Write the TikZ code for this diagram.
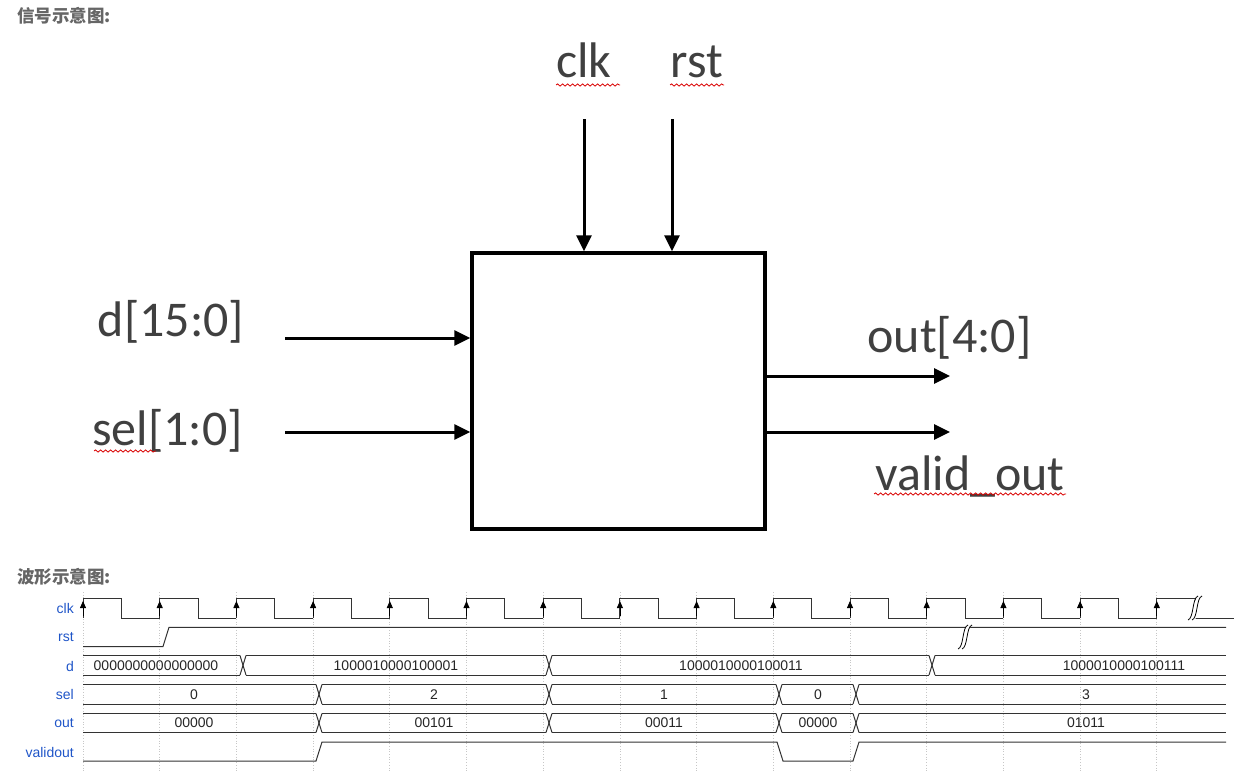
\documentclass[tikz,border=0pt]{standalone}
\usepackage{fontspec}
\setmainfont{Liberation Sans}
\newfontfamily\cjk{Noto Sans CJK SC}
\newfontfamily\drawfont{Carlito}
\usetikzlibrary{arrows.meta, positioning, decorations.pathmorphing}
\definecolor{headgray}{HTML}{666666}
\definecolor{sigblue}{HTML}{1F55C8}
\definecolor{wavegray}{HTML}{333333}
\tikzstyle{heading} = [anchor=west, inner sep=0pt, font=\cjk\bfseries\fontsize{17.5}{17.5}\selectfont, text=headgray]
\tikzstyle{block} = [rectangle, minimum width=293, minimum height=276, draw=black, line width=3.5pt, inner sep=0pt]
\tikzstyle{port} = [inner sep=0pt, font=\drawfont\fontsize{50}{50}\selectfont, text=black!75]
\tikzstyle{arrow} = [-{Triangle[length=16pt, width=15pt]}, line width=3pt]
\tikzstyle{squiggle} = [red!85!black, line width=0.8pt, decorate, decoration={snake, amplitude=1.1pt, segment length=5pt}]
\tikzstyle{signame} = [anchor=east, inner sep=0pt, font=\fontsize{14}{14}\selectfont, text=sigblue]
\tikzstyle{value} = [inner sep=0pt, font=\fontsize{14}{14}\selectfont, text=black!85]
\tikzstyle{wave} = [line width=1pt, draw=wavegray]
\tikzstyle{gridline} = [line width=0.7pt, draw=black!22, dotted]
\tikzstyle{edgetip} = [-{Triangle[length=7pt, width=6pt]}, line width=0.8pt]
\newcommand{\buslane}[3]{%
    \draw[wave] (83,#1) -- (1226,#1);
    \draw[wave] (83,#2) -- (1226,#2);
    \foreach \xc in {#3} {
        \fill[white] (\xc-3,#1-1) rectangle (\xc+3,#2+1);
        \draw[wave] (\xc-3,#1) -- (\xc+3,#2);
        \draw[wave] (\xc-3,#2) -- (\xc+3,#1);
    }
}
\newcommand{\wavebreak}[2]{%
    \fill[white] (#1-5,#2+12) .. controls (#1,#2+10) and (#1-2,#2-10) .. (#1+3,#2-12)
        -- (#1+7,#2-12) .. controls (#1+2,#2-10) and (#1+4,#2+10) .. (#1-1,#2+12) -- cycle;
    \draw[line width=0.8pt] (#1-7,#2+12) .. controls (#1-1,#2+10) and (#1-3,#2-10) .. (#1+3,#2-12);
    \draw[line width=0.8pt] (#1-3,#2+12) .. controls (#1+3,#2+10) and (#1+1,#2-10) .. (#1+7,#2-12);
}

\begin{document}
\begin{tikzpicture}[x=1pt, y=-1pt]
    \useasboundingbox (0,0) rectangle (1239,771);

    \node[heading] (sighead) at (17,16) {信号示意图:};
    \node[heading] (wavehead) at (17,577) {波形示意图:};

    % block with its ports
    \node[block] (dut) at (618.5,391) {};
    \node[port] (clk) at (584,60) {clk};
    \node[port] (rst) at (697,62) {rst};
    \node[port] (d) at (171,322) {d[15:0]};
    \node[port] (sel) at (167.5,431) {sel[1:0]};
    \node[port] (out) at (949.5,338) {out[4:0]};
    \node[port] (validout) at (970,476) {valid\_out};

    \coordinate (clkin) at (584,119);
    \coordinate (rstin) at (672,119);
    \coordinate (din) at (285,338);
    \coordinate (selin) at (285,432);
    \coordinate (outend) at (950,376);
    \coordinate (validend) at (950,432);

    \draw[arrow] (clkin) -- (clkin |- dut.north);
    \draw[arrow] (rstin) -- (rstin |- dut.north);
    \draw[arrow] (din) -- (din -| dut.west);
    \draw[arrow] (selin) -- (selin -| dut.west);
    \draw[arrow] (outend -| dut.east) -- (outend);
    \draw[arrow] (validend -| dut.east) -- (validend);

    % spell check marks
    \draw[squiggle] (556,85) -- (620,85);
    \draw[squiggle] (670,85) -- (724,85);
    \draw[squiggle] (94,451) -- (156,451);
    \draw[squiggle] (874,494) -- (1066,494);

    % waveform
    \foreach \xg in {83,159.7,236.4,313.1,389.8,466.5,543.2,619.9,696.6,773.3,850,926.7,1003.4,1080.1,1156.8} {
        \draw[gridline] (\xg,592) -- (\xg,771);
    }

    \node[signame] (clklabel) at (74,608) {clk};
    \node[signame] (rstlabel) at (74,637) {rst};
    \node[signame] (dlabel) at (74,666) {d};
    \node[signame] (sellabel) at (74,694.5) {sel};
    \node[signame] (outlabel) at (74,723) {out};
    \node[signame] (validlabel) at (74,752) {validout};

    \foreach \xr in {83,159.7,236.4,313.1,389.8,466.5,543.2,619.9,696.6,773.3,850,926.7,1003.4,1080.1,1156.8} {
        \draw[wave] (\xr,618) -- (\xr,598.5) -- (\xr+38.3,598.5) -- (\xr+38.3,618) -- (\xr+76.7,618);
        \draw[edgetip] (\xr,616) -- (\xr,601);
    }
    \draw[wave] (1195,618) -- (1226,618);
    \wavebreak{1195}{608}

    \draw[wave] (83,646.5) -- (163,646.5) -- (169,627.3) -- (1226,627.3);
    \wavebreak{965}{637}

    \buslane{655.5}{675}{243,549,932}
    \buslane{684.5}{704}{319,549,779,856}
    \buslane{713.5}{732.5}{319,549,779,856}

    \draw[wave] (83,761) -- (316,761) -- (322,742) -- (777,742) -- (783,761) -- (853,761) -- (859,742) -- (1226,742);

    \node[value] (dzero) at (156,665.5) {0000000000000000};
    \node[value] (dfirst) at (396,665.5) {1000010000100001};
    \node[value] (dsecond) at (741,665.5) {1000010000100011};
    \node[value] (dthird) at (1124,665.5) {1000010000100111};
    \node[value] (selzero) at (194,694.5) {0};
    \node[value] (seltwo) at (434,694.5) {2};
    \node[value] (selone) at (664,694.5) {1};
    \node[value] (selnull) at (818,694.5) {0};
    \node[value] (selthree) at (1086,694.5) {3};
    \node[value] (outa) at (194,723) {00000};
    \node[value] (outb) at (434,723) {00101};
    \node[value] (outc) at (664,723) {00011};
    \node[value] (outd) at (818,723) {00000};
    \node[value] (oute) at (1086,723) {01011};
\end{tikzpicture}
\end{document}
